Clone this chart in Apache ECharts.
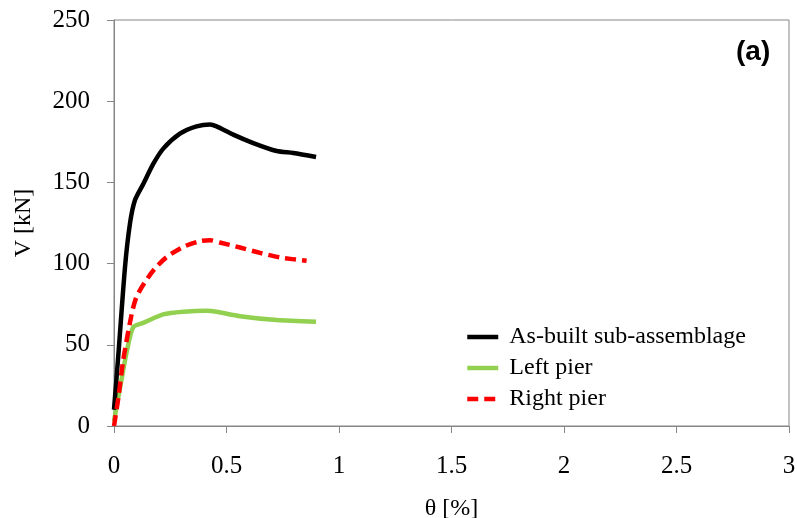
<!DOCTYPE html>
<html>
<head>
<meta charset="utf-8">
<script src="https://cdn.jsdelivr.net/npm/echarts@6/dist/echarts.min.js"></script>
<style>
html,body{margin:0;padding:0;background:#fff;}
#chart{width:797px;height:518px;}
</style>
</head>
<body>
<div id="chart"></div>
<script>
// Data
const seriesNames = ['As-built sub-assemblage', 'Left pier', 'Right pier'];

const asBuiltX = [0, 0.02, 0.049, 0.071, 0.093, 0.13, 0.175, 0.219, 0.293, 0.367, 0.427, 0.456, 0.53, 0.619, 0.723, 0.797, 0.898];
const asBuiltY = [10, 45, 98, 124.7, 139, 149, 161.5, 170.8, 180, 184.5, 185.7, 184.5, 179.4, 174.2, 169.3, 168.1, 165.6];

const leftX = [0, 0.03, 0.06, 0.086, 0.13, 0.219, 0.308, 0.412, 0.456, 0.56, 0.723, 0.898];
const leftY = [3, 26, 48, 61, 63.5, 68.7, 70.3, 70.9, 70.3, 67.6, 65.2, 64.2];

const rightX = [0, 0.02, 0.041, 0.079, 0.1, 0.138, 0.182, 0.234, 0.308, 0.382, 0.427, 0.47, 0.56, 0.649, 0.738, 0.856];
const rightY = [0, 18, 40.6, 69.3, 79.5, 88.7, 97, 104, 110.3, 113.8, 114.4, 113, 109.9, 106.6, 103.8, 101.7];

const xTicks = { min: 0, max: 3, interval: 0.5 };
const yTicks = { min: 0, max: 250, interval: 50 };

function pairs(xs, ys) { return xs.map((x, i) => [x, ys[i]]); }

const serif = 'Liberation Serif';
const axisGray = '#868686';
const colors = ['#000000', '#92d050', '#ff0000'];
const dash = [11, 6];

const chart = echarts.init(document.getElementById('chart'), null, { renderer: 'canvas' });
chart.setOption({
  animation: false,
  backgroundColor: '#ffffff',
  grid: {
    left: 114, right: 8, top: 20, bottom: 92,
    outerBoundsMode: 'none', containLabel: false,
    show: true, borderColor: axisGray, borderWidth: 1, backgroundColor: 'transparent'
  },
  xAxis: {
    type: 'value',
    min: xTicks.min, max: xTicks.max, interval: xTicks.interval,
    name: 'θ [%]', nameLocation: 'middle', nameGap: 71,
    nameTextStyle: { fontFamily: serif, fontSize: 24, color: '#000' },
    axisLine: { show: true, lineStyle: { color: axisGray, width: 1 } },
    axisTick: { show: true, inside: false, length: 7, lineStyle: { color: axisGray } },
    axisLabel: { fontFamily: serif, fontSize: 25, color: '#000', margin: 28 },
    splitLine: { show: false }
  },
  yAxis: {
    type: 'value',
    min: yTicks.min, max: yTicks.max, interval: yTicks.interval,
    name: 'V [kN]', nameLocation: 'middle', nameGap: 78, nameRotate: 90,
    nameTextStyle: { fontFamily: serif, fontSize: 24, color: '#000' },
    axisLine: { show: true, lineStyle: { color: axisGray, width: 1 } },
    axisTick: { show: true, inside: false, length: 7, lineStyle: { color: axisGray } },
    axisLabel: { fontFamily: serif, fontSize: 25, color: '#000', margin: 24 },
    splitLine: { show: false }
  },
  legend: {
    orient: 'vertical',
    left: 465, top: 325, padding: 0,
    itemWidth: 31, itemHeight: 14, itemGap: 7,
    textStyle: { fontFamily: serif, fontSize: 24, color: '#000', lineHeight: 24, padding: [0, 0, 0, 6] },
    itemStyle: { opacity: 0 },
    data: [
      { name: seriesNames[0], itemStyle: { opacity: 0 }, lineStyle: { width: 4.5, color: colors[0] } },
      { name: seriesNames[1], itemStyle: { opacity: 0 }, lineStyle: { width: 4.5, color: colors[1] } },
      { name: seriesNames[2], itemStyle: { opacity: 0 }, lineStyle: { width: 4.5, color: colors[2], type: dash } }
    ]
  },
  graphic: [{
    type: 'text', left: 736, top: 38,
    style: { text: '(a)', font: 'bold 28px "Liberation Sans"', fill: '#000' }
  }],
  series: [
    {
      name: seriesNames[0], type: 'line', data: pairs(asBuiltX, asBuiltY),
      symbol: 'none', smooth: 0.25,
      lineStyle: { color: colors[0], width: 4.5 }, itemStyle: { color: colors[0] }, z: 3
    },
    {
      name: seriesNames[1], type: 'line', data: pairs(leftX, leftY),
      symbol: 'none', smooth: 0.25,
      lineStyle: { color: colors[1], width: 4.5 }, itemStyle: { color: colors[1] }, z: 2
    },
    {
      name: seriesNames[2], type: 'line', data: pairs(rightX, rightY),
      symbol: 'none', smooth: 0.25,
      lineStyle: { color: colors[2], width: 4.5, type: dash }, itemStyle: { color: colors[2] }, z: 4
    }
  ]
});
</script>
</body>
</html>
